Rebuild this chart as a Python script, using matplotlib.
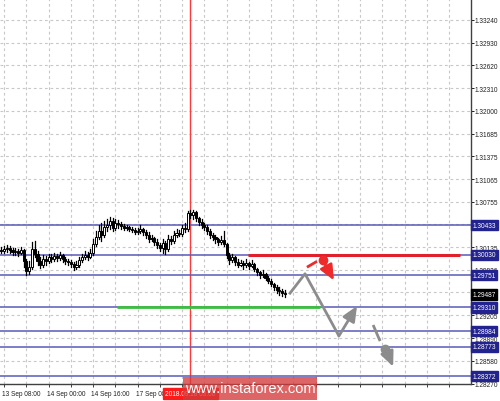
import matplotlib
matplotlib.use("Agg")
import matplotlib.pyplot as plt
from matplotlib.patches import Rectangle

# ---------------- data ----------------
first_open = 1.3010
closes = [1.3008, 1.3011, 1.3012, 1.3010, 1.3007, 1.3008, 1.3006, 1.3010, 1.2995, 1.2981,
          1.2986, 1.3011, 1.3004, 1.2995, 1.2989, 1.2997, 1.2995, 1.3000, 1.2997, 1.3001,
          1.2999, 1.3003, 1.2997, 1.2995, 1.2993, 1.2990, 1.2986, 1.2989, 1.2996, 1.3000,
          1.3003, 1.3000, 1.3006, 1.3018, 1.3027, 1.3036, 1.3030, 1.3041, 1.3044, 1.3049,
          1.3040, 1.3047, 1.3045, 1.3042, 1.3040, 1.3041, 1.3038, 1.3037, 1.3034, 1.3036,
          1.3038, 1.3034, 1.3030, 1.3025, 1.3026, 1.3021, 1.3016, 1.3012, 1.3019, 1.3011,
          1.3025, 1.3022, 1.3030, 1.3033, 1.3031, 1.3040, 1.3038, 1.3060, 1.3057, 1.3062,
          1.3053, 1.3048, 1.3044, 1.3041, 1.3036, 1.3030, 1.3027, 1.3025, 1.3021, 1.3023,
          1.3018, 1.3003, 1.2996, 1.3000, 1.2993, 1.2989, 1.2992, 1.2989, 1.2992, 1.2988,
          1.2990, 1.2984, 1.2980, 1.2975, 1.2977, 1.2971, 1.2967, 1.2963, 1.2959, 1.2955,
          1.2954, 1.2951, 1.2949]
highs = [1.3014, 1.3015, 1.3016, 1.3015, 1.3012, 1.3012, 1.3011, 1.3014, 1.3011, 1.2997,
         1.2995, 1.3021, 1.3022, 1.3008, 1.3000, 1.3003, 1.3001, 1.3004, 1.3004, 1.3006,
         1.3004, 1.3007, 1.3004, 1.3000, 1.2997, 1.2996, 1.2993, 1.2995, 1.3000, 1.3004,
         1.3008, 1.3007, 1.3011, 1.3025, 1.3036, 1.3044, 1.3047, 1.3049, 1.3052, 1.3055,
         1.3053, 1.3052, 1.3051, 1.3048, 1.3045, 1.3044, 1.3042, 1.3041, 1.3040, 1.3040,
         1.3044, 1.3040, 1.3037, 1.3034, 1.3030, 1.3027, 1.3025, 1.3019, 1.3025, 1.3022,
         1.3030, 1.3029, 1.3036, 1.3038, 1.3037, 1.3044, 1.3047, 1.3063, 1.3064, 1.3064,
         1.3063, 1.3055, 1.3052, 1.3047, 1.3044, 1.3038, 1.3033, 1.3030, 1.3026, 1.3029,
         1.3036, 1.3019, 1.3006, 1.3004, 1.3001, 1.2997, 1.2996, 1.2995, 1.2997, 1.2993,
         1.2996, 1.2992, 1.2985, 1.2981, 1.2982, 1.2978, 1.2974, 1.2970, 1.2964, 1.2962,
         1.2959, 1.2956, 1.2955]
lows = [1.3006, 1.3006, 1.3007, 1.3006, 1.3003, 1.3003, 1.3001, 1.3004, 1.2986, 1.2975,
        1.2977, 1.2984, 1.3000, 1.2989, 1.2985, 1.2986, 1.2989, 1.2992, 1.2993, 1.2995,
        1.2995, 1.2996, 1.2993, 1.2990, 1.2989, 1.2986, 1.2982, 1.2984, 1.2986, 1.2993,
        1.2997, 1.2996, 1.2999, 1.3003, 1.3015, 1.3025, 1.3022, 1.3027, 1.3036, 1.3038,
        1.3036, 1.3037, 1.3040, 1.3038, 1.3037, 1.3037, 1.3036, 1.3034, 1.3031, 1.3031,
        1.3033, 1.3030, 1.3026, 1.3021, 1.3022, 1.3016, 1.3012, 1.3008, 1.3006, 1.3004,
        1.3008, 1.3018, 1.3019, 1.3027, 1.3029, 1.3029, 1.3034, 1.3036, 1.3053, 1.3052,
        1.3049, 1.3044, 1.3040, 1.3037, 1.3031, 1.3026, 1.3023, 1.3019, 1.3016, 1.3018,
        1.3015, 1.2999, 1.2990, 1.2993, 1.2989, 1.2986, 1.2988, 1.2984, 1.2986, 1.2984,
        1.2986, 1.2981, 1.2975, 1.2971, 1.2973, 1.2969, 1.2964, 1.2960, 1.2955, 1.2951,
        1.2948, 1.2947, 1.2945]

level_values = [1.30433, 1.30030, 1.29751, 1.29310, 1.28984, 1.28773, 1.28372]
current_price = 1.29487
tick_values = [1.33240, 1.32930, 1.32620, 1.32310, 1.32000, 1.31685, 1.31375, 1.31065,
               1.30755, 1.30135, 1.29826, 1.29205, 1.28890, 1.28580, 1.28270]
hidden_grid_values = [1.30445, 1.29515]
time_labels = ["13 Sep 08:00", "14 Sep 00:00", "14 Sep 16:00", "17 Sep 08:00"]
time_label_bars = [1, 17, 33, 49]
vline_bar = 68
vline_label = "2018.09.18 03:00"

red_level = 1.30030
red_span = [88.7, 165.0]
green_level = 1.29310
green_span = [41.6, 114.6]

# forecast sketch (bar index, price)
gray_path_x = [103.5, 109.2, 121.4, 127.9]
gray_path_y = [1.2949, 1.2977, 1.2892, 1.2933]
gray_dash_x = [133.7, 136.2]
gray_dash_y = [1.2907, 1.2885]
gray_dot = (138.0, 1.2874)
gray_arrow_x = [138.7, 140.9]
gray_arrow_y = [1.2870, 1.2850]
red_dash_x = [109.9, 113.5]
red_dash_y = [1.2986, 1.2994]
red_dot = (115.7, 1.2996)
red_arrow_x = [116.4, 119.6]
red_arrow_y = [1.2990, 1.2968]

# ---------------- figure ----------------
W, H = 500, 402
fig = plt.figure(figsize=(W / 100, H / 100), dpi=100)
fig.patch.set_facecolor("white")
ax = fig.add_axes([0.0, (H - 384.5) / H, 471 / W, 384.5 / H])
ax.set_xlim(-0.5, 168.9)
ax.set_ylim(1.28270, 1.33527)
ax.set_facecolor("white")

FONT = "Liberation Sans"
FS = 4.7
LINE_BLUE = "#5a5ab8"
TAG_BLUE = "#23238f"

# grid
grid_kw = dict(color="#c8c8c8", lw=0.8, ls=(0, (2.5, 2.5)), zorder=0)
for v in tick_values + hidden_grid_values:
    ax.axhline(v, **grid_kw)
for b in range(1, 169, 8):
    ax.axvline(b, **grid_kw)

# vertical red line
ax.axvline(vline_bar, color="#ff3a3a", lw=1.0, zorder=1)

# horizontal levels
for v in level_values:
    ax.axhline(v, color=LINE_BLUE, lw=1.1, zorder=2)

ax.plot(red_span, [red_level, red_level], color="#e0202a", lw=2.2, zorder=3, solid_capstyle="butt")
ax.plot(green_span, [green_level, green_level], color="#3cbf3c", lw=2.0, zorder=3, solid_capstyle="butt")

# candles
opens = [first_open] + closes[:-1]
for i, (o, h, l, c) in enumerate(zip(opens, highs, lows, closes)):
    top = max(h, o, c)
    bot = min(l, o, c)
    ax.plot([i, i], [bot, top], color="black", lw=0.9, zorder=4)
    lo, hi = min(o, c), max(o, c)
    if hi - lo < 0.00005:
        hi = lo + 0.00005
    face = "white" if c >= o else "black"
    ax.add_patch(Rectangle((i - 0.38, lo), 0.76, hi - lo, facecolor=face,
                           edgecolor="black", lw=0.7, zorder=5))

# forecast sketch
GRAY = "#8c8c8c"
head = "-|>,head_length=0.9,head_width=0.4"
ax.plot(gray_path_x[:-1], gray_path_y[:-1], color=GRAY, lw=2.0, zorder=6, solid_capstyle="butt")
ax.annotate("", xy=(gray_path_x[-1], gray_path_y[-1]), xytext=(gray_path_x[-2], gray_path_y[-2]),
            arrowprops=dict(arrowstyle=head, color=GRAY, lw=2.0, shrinkA=0, shrinkB=0), zorder=6)
ax.plot(gray_dash_x, gray_dash_y, color=GRAY, lw=2.0, zorder=6, solid_capstyle="butt")
ax.plot([gray_dot[0]], [gray_dot[1]], "o", color=GRAY, ms=6, zorder=6)
ax.annotate("", xy=(gray_arrow_x[1], gray_arrow_y[1]), xytext=(gray_arrow_x[0], gray_arrow_y[0]),
            arrowprops=dict(arrowstyle=head, color=GRAY, lw=2.0, shrinkA=0, shrinkB=0), zorder=6)

RED = "#ee2a2a"
ax.plot(red_dash_x, red_dash_y, color=RED, lw=2.0, zorder=6, solid_capstyle="butt")
ax.plot([red_dot[0]], [red_dot[1]], "o", color=RED, ms=6, zorder=6)
ax.annotate("", xy=(red_arrow_x[1], red_arrow_y[1]), xytext=(red_arrow_x[0], red_arrow_y[0]),
            arrowprops=dict(arrowstyle=head, color=RED, lw=2.0, shrinkA=0, shrinkB=0), zorder=6)

# spines and ticks
for s in ["top", "left"]:
    ax.spines[s].set_visible(False)
for s in ["right", "bottom"]:
    ax.spines[s].set_color("#404040")
    ax.spines[s].set_linewidth(1.0)
ax.yaxis.tick_right()
ax.set_yticks(tick_values)
ax.set_yticklabels([f"{v:.5f}" for v in tick_values], fontsize=FS, family=FONT)
ax.tick_params(axis="y", direction="out", length=2.0, width=0.7, pad=0.8, colors="#202020")
ax.set_xticks(list(range(1, 169, 8)))
ax.set_xticklabels([])
ax.tick_params(axis="x", direction="out", length=2.5, width=0.7, colors="#404040")

# time labels
for b, t in zip(time_label_bars, time_labels):
    ax.annotate(t, xy=(b, 0), xycoords=("data", "axes fraction"), xytext=(-1.5, -7.5),
                textcoords="offset points", ha="left", va="center", fontsize=FS, family=FONT,
                color="#202020")

# price tags on right axis
def tag(value, bg):
    ax.annotate(f"{value:.5f}", xy=(1, value), xycoords=("axes fraction", "data"),
                xytext=(1.0, 0), textcoords="offset points", ha="left", va="center",
                fontsize=FS, family=FONT, color="white",
                bbox=dict(boxstyle="square,pad=0.25", fc=bg, ec=bg), zorder=10,
                annotation_clip=False)

for v in level_values:
    tag(v, TAG_BLUE)
tag(current_price, "black")

# vertical line time label
ax.annotate(vline_label, xy=(vline_bar, 0), xycoords=("data", "axes fraction"), xytext=(0, -7.5),
            textcoords="offset points", ha="center", va="center", fontsize=FS, family=FONT,
            color="white", bbox=dict(boxstyle="square,pad=0.3", fc="#ff1a1a", ec="#ff1a1a"),
            annotation_clip=False, zorder=10)

# watermark
fig.patches.append(Rectangle((183 / W, 1 - 401 / H), (317 - 183) / W, 23 / H,
                             transform=fig.transFigure, facecolor="#d43a3a", alpha=0.78,
                             edgecolor="none", zorder=20))
fig.text(250 / W, 1 - 389.5 / H, "www.instaforex.com", ha="center", va="center",
         fontsize=10.5, family=FONT, color="white", zorder=21)

fig.savefig("out.png", dpi=100, facecolor="white")
